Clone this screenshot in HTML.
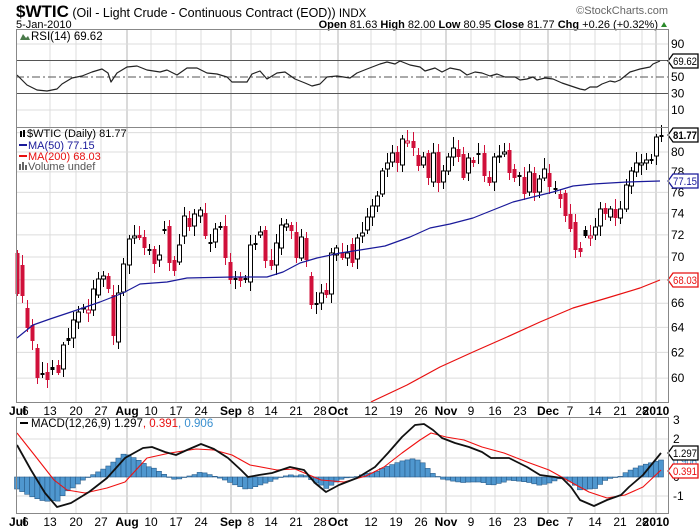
<!DOCTYPE html>
<html><head><meta charset="utf-8"><style>
html,body{margin:0;padding:0;background:#fff;}
svg{display:block;font-family:"Liberation Sans",sans-serif;}
</style></head><body>
<svg id="c" width="700" height="530" viewBox="0 0 700 530" xmlns="http://www.w3.org/2000/svg"></svg>
<script>
const S=document.getElementById('c');let h='';
const L=16,R=668;
function ln(x1,y1,x2,y2,c,w,extra){h+=`<line x1="${x1}" y1="${y1}" x2="${x2}" y2="${y2}" stroke="${c}" stroke-width="${w||1}" ${extra||''}/>`;}
function tx(x,y,t,o){h+=`<text x="${x}" y="${y}" ${o||''}>${t}</text>`;}
function pl(pts,c,w){h+=`<polyline fill="none" stroke="${c}" stroke-width="${w}" stroke-linejoin="round" points="${pts.map(p=>p.join(',')).join(' ')}"/>`;}
tx(16,17,'<tspan font-weight="bold" font-size="17">$WTIC</tspan><tspan font-size="12.5"> (Oil - Light Crude - Continuous Contract (EOD))</tspan><tspan font-size="11.5"> INDX</tspan>');
tx(16,28,'5-Jan-2010','font-size="11"');
tx(668,14,'©StockCharts.com','font-size="11" fill="#666" text-anchor="end"');
tx(658,28,'<tspan font-weight="bold">Open</tspan> 81.63 <tspan font-weight="bold">High</tspan> 82.00 <tspan font-weight="bold">Low</tspan> 80.95 <tspan font-weight="bold">Close</tspan> 81.77 <tspan font-weight="bold">Chg</tspan> +0.26 (+0.32%)','font-size="11" text-anchor="end"');
h+='<polygon points="661,27 667,27 664,22" fill="#2a8a2a"/>';
const V=[[50,'13'],[76,'20'],[101,'27'],[127,'Aug',1],[151,'10'],[176,'17'],[201,'24'],[231,'Sep',1],[251,'8'],[271,'14'],[296,'21'],[320,'28'],[338,'Oct',1],[371,'12'],[396,'19'],[421,'26'],[446,'Nov',1],[471,'9'],[495,'16'],[520,'23'],[548,'Dec',1],[570,'7'],[595,'14'],[620,'21'],[642,'28'],[656,'2010',1]];
const panels=[[29,127],[127,402],[417,513]];
for(const [a,b] of panels){for(const v of V)ln(v[0],a,v[0],b,v[2]?'#b4b4b4':'#dcdcdc',1);}
const ry=v=>118.25-0.825*v;
for(const v of [90,10])ln(L,ry(v),R,ry(v),'#dcdcdc');
ln(L,ry(70),R,ry(70),'#555');ln(L,ry(30),R,ry(30),'#555');
ln(L,ry(50),R,ry(50),'#555',1,'stroke-dasharray="8,3,2,3"');
for(const v of [90,50,30,10])tx(671,ry(v)+4,v,'font-size="12"');
pl([[17,75],[27,85],[37,90],[47,91],[57,89],[62,84],[72,78],[82,76],[92,72],[102,69],[108,73],[111,82],[117,73],[127,67],[137,66],[147,70],[160,72],[167,70],[177,75],[187,68],[197,68],[207,73],[217,74],[227,77],[232,82],[247,82],[252,74],[260,71],[267,79],[277,73],[285,72],[295,79],[305,83],[312,86],[320,84],[327,77],[337,76],[350,78],[357,73],[367,69],[380,64],[387,62],[395,64],[400,61],[410,65],[420,67],[425,71],[435,68],[442,72],[450,68],[460,70],[467,75],[475,72],[482,73],[490,76],[497,74],[505,77],[515,77],[520,80],[527,79],[533,77],[537,80],[545,78],[553,79],[562,83],[580,89],[585,90],[590,87],[597,87],[602,84],[610,81],[615,82],[620,80],[630,72],[640,69],[650,67],[653,64],[660,61]],'#222',1.2);
h+='<polygon points="20,40 23,34 26,38 28,36 30,40" fill="#4a7a4a"/>';
tx(31,40,'RSI(14) 69.62','font-size="11.5"');
function tag(y,t,c,b){h+=`<polygon points="668,${y} 673,${y-7} 698,${y-7} 698,${y+7} 673,${y+7}" fill="#fff" stroke="${c}" stroke-width="1.3"/>`;tx(673,y+4,t,`font-size="11" textLength="24" lengthAdjust="spacingAndGlyphs" fill="${c}" ${b?'font-weight="bold"':''}`);}
tag(61,'69.62','#000');
const py=p=>152+786*Math.log(80/p);
for(let p=60;p<=82;p+=2){const y=py(p);ln(L,y,R,y,'#dcdcdc');}
for(let p=60;p<=80;p+=2)tx(671,py(p)+4,p,'font-size="12"');
const C=[['r',253,293],['r',265,295],['r',308,327],['r',325,340],['r',348,377],['k',373,374],['r',372,379],['k',367,369],['r',365,372],['w',369,345],['k',338,340],['w',338,320],['w',322,312],['w',309,308],['h',310,313],['w',310,289],['w',295,279],['w',279,276],['r',276,288],['r',295,335],['w',342,293],['w',292,264],['w',265,239],['w',238,236],['r',235,237],['r',237,247],['k',249,250],['r',249,263],['w',260,255],['k',229,230],['r',226,262],['r',260,270],['w',262,245],['w',236,216],['r',218,226],['w',226,214],['w',216,210],['r',213,235],['k',242,243],['w',242,229],['k',226,227],['r',226,257],['r',262,279],['k',278,279],['r',277,280],['k',278,279],['w',282,245],['k',243,244],['w',235,232],['r',230,260],['r',260,265],['w',265,243],['w',248,225],['w',227,224],['r',225,230],['r',232,257],['w',258,237],['r',238,259],['r',276,304],['k',303,304],['w',303,293],['r',290,294],['w',294,253],['w',255,248],['r',253,257],['w',258,253],['r',244,262],['w',259,238],['w',236,233],['w',230,217],['w',217,206],['w',206,196],['w',194,171],['w',169,163],['w',162,153],['r',152,162],['w',165,139],['h',141,143],['r',141,147],['r',155,165],['w',165,157],['r',153,177],['w',182,153],['r',152,182],['w',182,171],['w',171,157],['w',157,148],['r',149,156],['r',154,177],['w',173,158],['r',160,162],['k',153,154],['r',153,175],['r',177,182],['w',182,157],['w',157,156],['w',154,152],['r',150,172],['r',169,177],['k',175,176],['r',177,193],['w',192,172],['r',173,192],['w',192,179],['w',178,169],['r',173,186],['k',188,189],['r',194,198],['r',193,215],['r',214,228],['r',222,249],['r',248,251],['k',230,235],['h',236,238],['w',235,227],['w',226,209],['r',208,213],['w',217,209],['r',209,217],['w',218,209],['w',209,185],['w',186,171],['w',172,163],['w',165,163],['w',163,160],['k',159,160],['w',156,137],['k',135,136]];
const N=C.length;
C.forEach((c,i)=>{const x=Math.round(17+i*(661-17)/(N-1))+0.5;const t=Math.min(c[1],c[2]),b=Math.max(c[1],c[2]);
 const up=3+((i*7)%9),dn=3+((i*5)%8);const col=(c[0]=='r'||c[0]=='h')?'#d0103a':'#000';
 ln(x,t-up,x,b+dn,col,1);
 const hh=Math.max(b-t,1);
 if(c[0]=='r'||c[0]=='k')h+=`<rect x="${x-2}" y="${t}" width="4" height="${hh+1}" fill="${col}"/>`;
 else h+=`<rect x="${x-2}" y="${t}" width="4" height="${hh}" fill="#fff" stroke="${col}" stroke-width="1"/>`;});
pl([[17,338],[33,325],[50,319],[77,310],[100,302],[123,293],[140,284],[167,282],[187,278],[233,277],[267,277],[283,272],[300,263],[317,258],[340,253],[360,250],[385,246],[410,237],[430,228],[450,224],[473,218],[493,210],[513,202],[533,197],[553,192],[573,186],[593,184],[627,182],[660,181]],'#1a1a9a',1.2);
pl([[371,402],[373,401],[407,385],[440,367],[473,352],[507,337],[540,322],[573,308],[607,298],[640,288],[660,280]],'#e81010',1.2);
h+='<g font-size="11">';
h+='<rect x="20" y="131" width="2" height="6"/><rect x="23" y="130" width="2" height="7"/>';
tx(27,137,'$WTIC (Daily) 81.77');
ln(19,145,27,145,'#1a1a9a',2);tx(28,149,'MA(50) 77.15','fill="#1a1a9a"');
ln(19,156,27,156,'#e81010',2);tx(28,160,'MA(200) 68.03','fill="#e81010"');
h+='<rect x="19" y="164" width="2" height="6" fill="#666"/><rect x="22" y="162" width="2" height="8" fill="#666"/><rect x="25" y="165" width="2" height="5" fill="#666"/>';
tx(28,170,'Volume undef','fill="#555"');
h+='</g>';
tag(135,'81.77','#000',1);tag(181,'77.15','#1a1a9a');tag(280,'68.03','#e81010');
const my=v=>477-19*v;
for(const v of [2,1,-1])ln(L,my(v),R,my(v),'#dcdcdc');
for(const v of [3,2,0,-1])tx(673,my(v)+4,v,'font-size="12"');
const M=[[17,445],[31,470],[45,493],[57,507],[71,503],[89,492],[107,478],[125,458],[143,448],[152,447],[165,452],[176,455],[187,450],[201,444],[214,449],[228,458],[241,470],[248,477],[259,475],[272,473],[290,467],[304,470],[315,483],[326,492],[339,485],[357,478],[375,467],[388,453],[402,437],[415,425],[424,424],[433,430],[442,438],[455,443],[469,447],[482,452],[491,458],[509,458],[527,467],[540,475],[562,478],[571,487],[580,500],[594,506],[607,500],[621,495],[629,487],[643,475],[661,453]];
const Sg=[[17,433],[36,457],[54,480],[67,490],[85,493],[107,488],[125,482],[147,458],[170,453],[196,449],[214,450],[232,455],[250,465],[277,470],[295,469],[321,480],[344,482],[366,476],[384,467],[402,453],[420,440],[431,433],[446,437],[464,440],[482,447],[504,453],[527,462],[549,470],[567,480],[589,492],[607,498],[625,495],[643,487],[661,470]];
function it(A,x){for(let i=0;i<A.length-1;i++){if(x>=A[i][0]&&x<=A[i+1][0]){const f=(x-A[i][0])/(A[i+1][0]-A[i][0]);return A[i][1]+f*(A[i+1][1]-A[i][1]);}}return A[A.length-1][1];}
for(let i=0;i<N;i++){const x=17+i*(661-17)/(N-1);const d=(it(M,x)-it(Sg,x));const y0=477,y1=477+d;
 const t=Math.min(y0,y1),hh=Math.max(Math.abs(d),0.5);
 h+=`<rect x="${(x-2.5).toFixed(1)}" y="${t.toFixed(1)}" width="5" height="${hh.toFixed(1)}" fill="#4f97cf" stroke="#2a5d8a" stroke-width="0.6"/>`;}
pl(Sg,'#f01010',1.1);pl(M,'#111',1.8);
ln(20,423,28,423,'#000',2);
tx(31,427,'MACD(12,26,9) 1.297<tspan fill="#e81010">, 0.391</tspan><tspan fill="#3a90d0">, 0.906</tspan>','font-size="11.5"');
tx(673,465,'0.906','font-size="11" textLength="24" lengthAdjust="spacingAndGlyphs" fill="#3a90d0"');
tag(453,'1.297','#000');tag(471,'0.391','#e81010');
for(const [a,b] of panels)h+=`<rect x="${L}.5" y="${a}.5" width="${R-L}" height="${b-a}" fill="none" stroke="#888"/>`;
function axis(y){tx(9,y,'Jul','font-size="12" font-weight="bold"');tx(22,y,'6','font-size="12"');
 for(const v of V)tx(v[0],y,v[1],`font-size="12" text-anchor="middle" ${v[2]?'font-weight="bold"':''}`);}
axis(415);axis(526);
S.innerHTML=h;
</script>
</body></html>
